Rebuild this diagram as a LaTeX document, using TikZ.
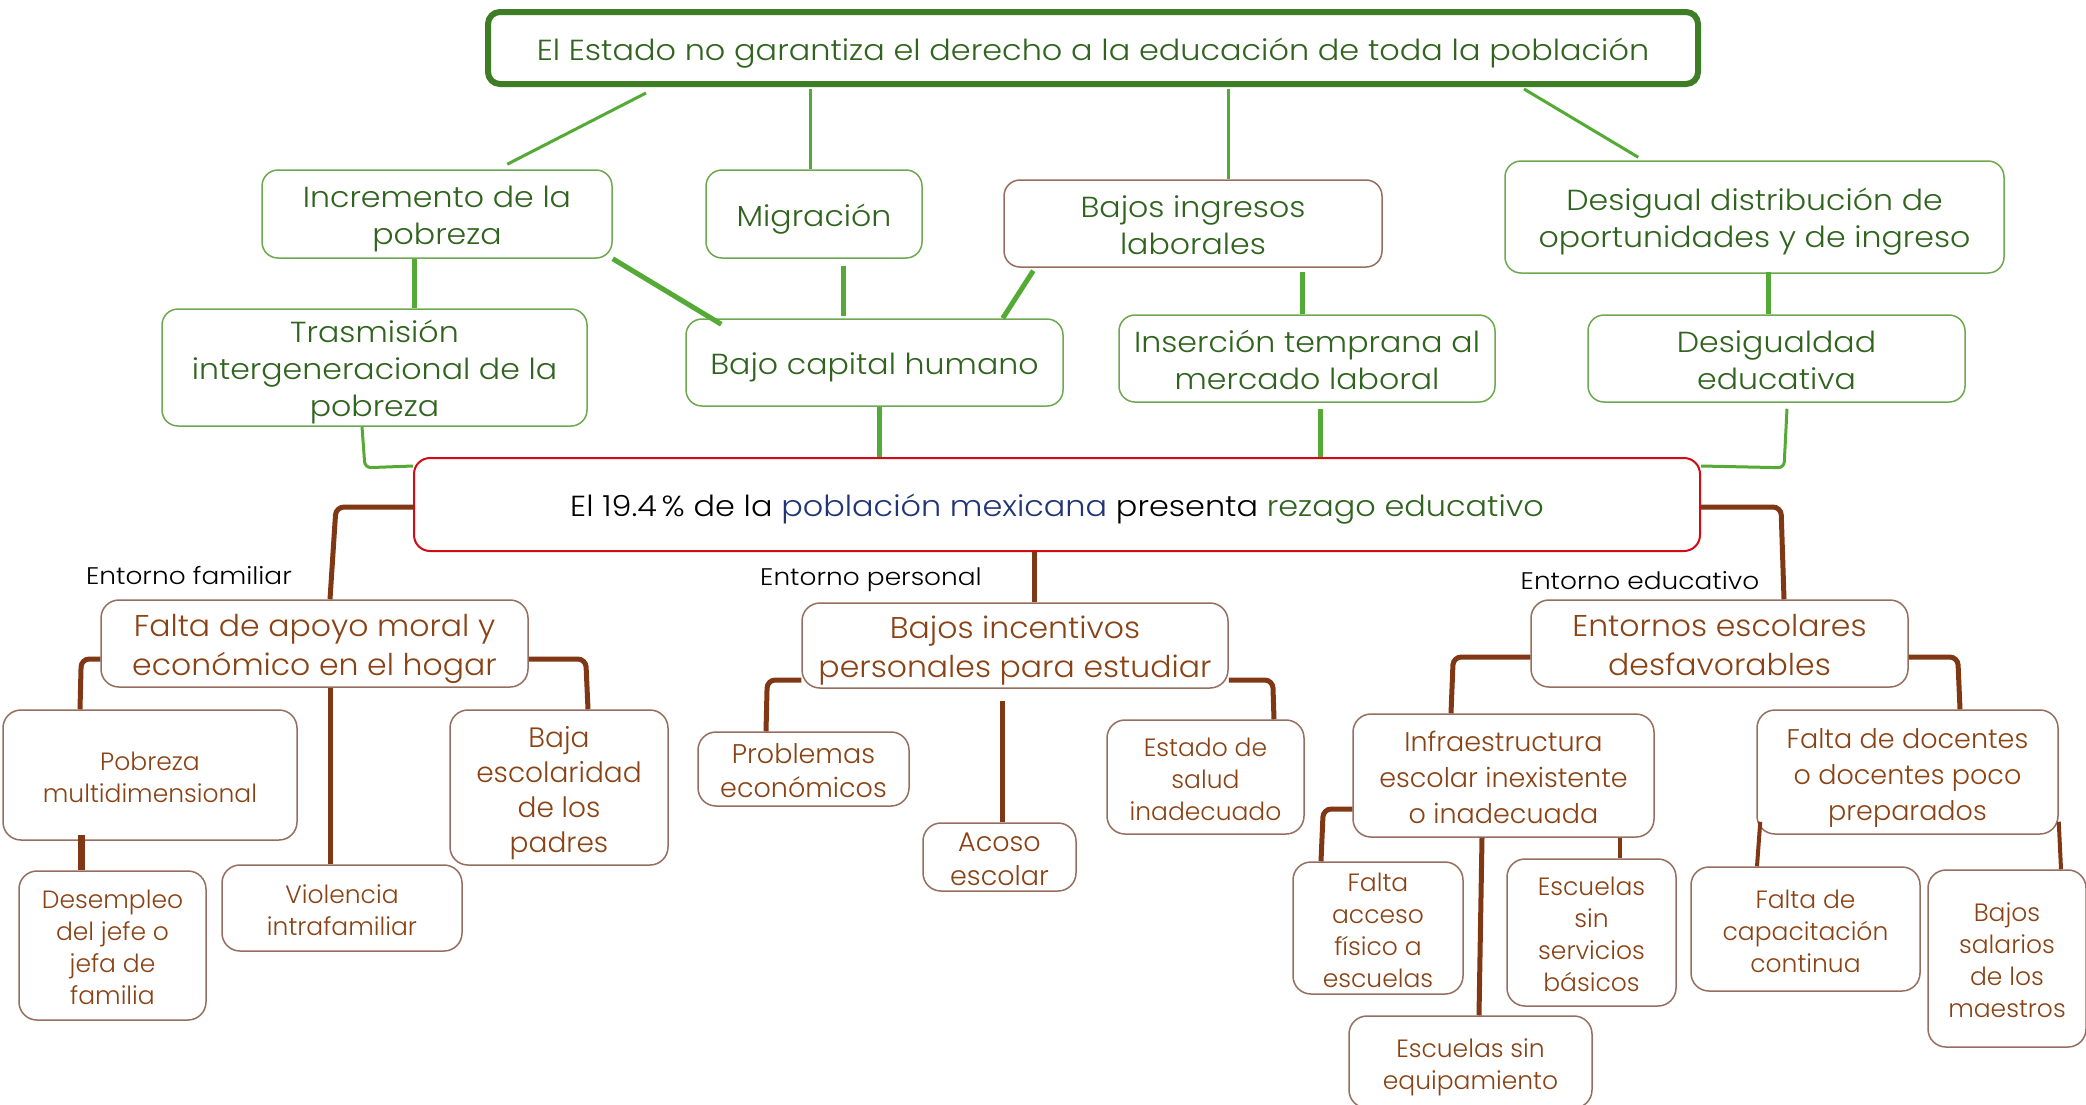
\documentclass[tikz,border=0pt]{standalone}
\usepackage{fontspec}
\setmainfont{Poppins Light}
\newfontfamily\famA[FakeStretch=1.09]{Poppins Light}
\newfontfamily\famB[FakeStretch=1.05]{Poppins Light}
\newfontfamily\famD[FakeStretch=1.10]{Poppins Light}
\usetikzlibrary{calc}
\definecolor{gtext}{RGB}{48,100,30}
\definecolor{gborder}{RGB}{110,168,80}
\definecolor{gline}{RGB}{84,170,52}
\definecolor{gtop}{RGB}{62,125,38}
\definecolor{btext}{RGB}{138,66,20}
\definecolor{bborder}{RGB}{150,110,95}
\definecolor{bline}{RGB}{128,55,20}
\definecolor{redb}{RGB}{210,10,20}
\definecolor{navy}{RGB}{32,52,120}
\newcommand{\fntA}{\famA\fontsize{29}{37}\selectfont}
\newcommand{\fntT}{\famD\fontsize{29}{37}\selectfont}
\newcommand{\fntB}{\famB\fontsize{30}{38.5}\selectfont}
\newcommand{\fntC}{\fontsize{25}{32}\selectfont}
\newcommand{\fntD}{\famD\fontsize{24}{30}\selectfont}
\newcommand{\tbx}[1]{\raisebox{-5pt}[\height][\depth]{\begin{tabular}{@{}c@{}}#1\end{tabular}}}
\tikzset{
  gbox/.style={draw=gborder, line width=1.5, rounded corners=16, text=gtext, inner sep=0, font=\fntA},
  topbox/.style={draw=gtop, line width=6, rounded corners=12, text=gtext, inner sep=0, font=\fntT},
  centbox/.style={draw=redb, line width=2, rounded corners=16, inner sep=0, font=\fntT},
  bbox/.style={draw=bborder, line width=1.5, rounded corners=18, text=btext, inner sep=0, font=\fntB},
  sbox/.style={draw=bborder, line width=1.5, rounded corners=18, text=btext, inner sep=0, font=\fntC},
  lbl/.style={text=black, inner sep=0, font=\fntD},
  gthin/.style={draw=gline, line width=3},
  gthick/.style={draw=gline, line width=5},
  bthick/.style={draw=bline, line width=5, rounded corners=8},
}
\begin{document}
\begin{tikzpicture}[x=1pt,y=-1pt]
\useasboundingbox[fill=white] (0,0) rectangle (2086,1104);
% top
\node[topbox, minimum width=1210, minimum height=72] (top) at (1093,48) {\tbx{El Estado no garantiza el derecho a la educación de toda la población}};
% level 2
\node[gbox, minimum width=350, minimum height=88] (inc) at (437,214) {\tbx{Incremento de la\\pobreza}};
\node[gbox, minimum width=216, minimum height=88] (mig) at (814,214) {\tbx{Migración}};
\node[gbox, draw=bborder, minimum width=378, minimum height=87] (bing) at (1193,223.5) {\tbx{Bajos ingresos\\laborales}};
\node[gbox, minimum width=499, minimum height=112] (desd) at (1754.5,217) {\tbx{Desigual distribución de\\oportunidades y de ingreso}};
% level 3
\node[gbox, minimum width=425, minimum height=117] (tras) at (374.5,367.5) {\tbx{Trasmisión\\intergeneracional de la\\pobreza}};
\node[gbox, minimum width=377, minimum height=87] (bcap) at (874.5,362.5) {\tbx{Bajo capital humano}};
\node[gbox, minimum width=376, minimum height=87] (ins) at (1307,358.5) {\tbx{Inserción temprana al\\mercado laboral}};
\node[gbox, minimum width=377, minimum height=87] (dedu) at (1776.5,358.5) {\tbx{Desigualdad\\educativa}};
% central
\node[centbox, minimum width=1286, minimum height=93] (cent) at (1057,504.5) {\tbx{El 19.4\,\% de la \textcolor{navy}{población mexicana} presenta \textcolor{gtext}{rezago educativo}}};
% labels
\node[lbl] (lf) at (189,576) {Entorno familiar};
\node[lbl] (lp) at (871,580) {Entorno personal};
\node[lbl] (le) at (1640,581) {Entorno educativo};
% level 4
\node[bbox, minimum width=427, minimum height=87] (fam) at (314.5,643.5) {\tbx{Falta de apoyo moral y\\económico en el hogar}};
\node[bbox, minimum width=426, minimum height=85] (per) at (1015,645.5) {\tbx{Bajos incentivos\\personales para estudiar}};
\node[bbox, minimum width=377, minimum height=87] (edu) at (1719.5,643.5) {\tbx{Entornos escolares\\desfavorables}};
% familiar children
\node[sbox, minimum width=294, minimum height=130] (pob) at (150,775) {\tbx{Pobreza\\multidimensional}};
\node[sbox, font=\fontsize{28}{35}\selectfont, minimum width=218, minimum height=155] (baja) at (559,787.5) {\tbx{Baja\\escolaridad\\de los\\padres}};
\node[sbox, minimum width=240, minimum height=86] (vio) at (342,908) {\tbx{Violencia\\intrafamiliar}};
\node[sbox, minimum width=187, minimum height=149] (desem) at (112.5,945.5) {\tbx{Desempleo\\del jefe o\\jefa de\\familia}};
% personal children
\node[sbox, font=\fontsize{27}{34}\selectfont, minimum width=211, minimum height=74] (prob) at (803.5,769) {\tbx{Problemas\\económicos}};
\node[sbox, font=\fontsize{27}{34}\selectfont, minimum width=153, minimum height=64] (acoso) at (999.5,857) {\tbx{Acoso\\escolar}};
\node[sbox, minimum width=197, minimum height=114] (salud) at (1205.5,777) {\tbx{Estado de\\salud\\inadecuado}};
% educativo children
\node[sbox, font=\fontsize{27}{36}\selectfont, minimum width=301, minimum height=123] (infra) at (1503.5,775.5) {\tbx{Infraestructura\\escolar inexistente\\o inadecuada}};
\node[sbox, font=\fontsize{27}{36}\selectfont, minimum width=301, minimum height=124] (doc) at (1907.5,772) {\tbx{Falta de docentes\\o docentes poco\\preparados}};
\node[sbox, minimum width=170, minimum height=132] (acceso) at (1378,928) {\tbx{Falta\\acceso\\físico a\\escuelas}};
\node[sbox, minimum width=169, minimum height=147] (serv) at (1591.5,932.5) {\tbx{Escuelas\\sin\\servicios\\básicos}};
\node[sbox, minimum width=243, minimum height=92] (equip) at (1470.5,1062) {\tbx{Escuelas sin\\equipamiento}};
\node[sbox, minimum width=229, minimum height=124] (cap) at (1805.5,929) {\tbx{Falta de\\capacitación\\continua}};
\node[sbox, minimum width=158, minimum height=177] (sal) at (2007,958.5) {\tbx{Bajos\\salarios\\de los\\maestros}};
% green connectors top -> level 2
\draw[gthin] ($(top.south west)+(161,6)$) -- ($(inc.north west)+(246,-5)$);
\draw[gthin] ($(mig.north)+(-4,0)$) -- ($(top.south)+(-283,2)$);
\draw[gthin] ($(bing.north)+(35,0)$) -- ($(top.south)+(135,2)$);
\draw[gthin] ($(top.south east)+(-177,2)$) -- ($(desd.north west)+(134,-3)$);
% level 2 -> level 3
\draw[gthick] ($(inc.south)+(-23,0)$) -- ($(tras.north)+(39.5,0)$);
\draw[gthick] (inc.south east) -- ($(bcap.north west)+(36,6)$);
\draw[gthick] ($(mig.south)+(29,7)$) -- ($(bcap.north)+(-31.5,-2)$);
\draw[gthick] ($(bing.south west)+(30,3)$) -- ($(bcap.north east)+(-61,0)$);
\draw[gthick] ($(bing.south)+(109,4)$) -- ($(ins.north)+(-5,0)$);
\draw[gthick] ($(desd.south)+(13.5,-2)$) -- ($(dedu.north)+(-8.5,0)$);
% level 3 -> central
\draw[gthin, rounded corners=6] ($(tras.south)+(-12.5,0)$) -- ($(tras.south)+(-9.5,41)$) -- ($(cent.north west)+(0,9)$);
\draw[gthick] ($(bcap.south)+(4.5,0)$) -- ($(cent.north)+(-178,0)$);
\draw[gthick] ($(ins.south)+(13,6)$) -- ($(cent.north)+(263,0)$);
\draw[gthin, rounded corners=6] ($(dedu.south)+(10.5,6)$) -- ($(dedu.south)+(7.5,65)$) -- ($(cent.north east)+(0,9)$);
% central -> level 4
\draw[bthick] ($(cent.west)+(0,2.5)$) -- ($(cent.west)+(-77,2.5)$) -- ($(fam.north)+(15.5,0)$);
\draw[bthick] ($(cent.south)+(-23,0)$) -- ($(per.north)+(19,0)$);
\draw[bthick] ($(cent.east)+(0,2.5)$) -- ($(cent.east)+(80,2.5)$) -- ($(edu.north)+(64.5,0)$);
% familiar
\draw[bthick] ($(fam.west)+(0,15.5)$) -- ($(fam.west)+(-19,15.5)$) -- ($(pob.north)+(-70,0)$);
\draw[bthick] ($(fam.south)+(15.5,0)$) -- ($(vio.north)+(-12,0)$);
\draw[bthick] ($(fam.east)+(0,15.5)$) -- ($(fam.east)+(57,15.5)$) -- ($(baja.north)+(29,0)$);
\draw[bthick, line width=7] ($(pob.south)+(-69,-6)$) -- ($(desem.north)+(-31.5,0)$);
% personal
\draw[bthick] ($(per.west)+(0,34.5)$) -- ($(per.west)+(-34,34.5)$) -- ($(prob.north)+(-37.5,0)$);
\draw[bthick] ($(per.south)+(-13,12)$) -- ($(acoso.north)+(2.5,0)$);
\draw[bthick] ($(per.east)+(0,34.5)$) -- ($(per.east)+(44,34.5)$) -- ($(salud.north)+(68.5,0)$);
% educativo
\draw[bthick] ($(edu.west)+(0,13.5)$) -- ($(edu.west)+(-77,13.5)$) -- ($(infra.north)+(-52.5,0)$);
\draw[bthick] ($(edu.east)+(0,13.5)$) -- ($(edu.east)+(49,13.5)$) -- ($(doc.north)+(52.5,0)$);
\draw[bthick] ($(infra.west)+(0,33.5)$) -- ($(infra.west)+(-29,33.5)$) -- ($(acceso.north)+(-57,0)$);
\draw[bthick] ($(infra.south)+(-21.5,0)$) -- ($(equip.north)+(8.5,0)$);
\draw[bthick, line width=4] ($(infra.south)+(116.5,0)$) -- ($(serv.north)+(28.5,0)$);
\draw[bthick, line width=4] ($(doc.south west)+(4,-13)$) -- ($(cap.north)+(-48.5,0)$);
\draw[bthick, line width=4] ($(doc.south east)+(0,-13)$) -- ($(sal.north)+(54,0)$);
\end{tikzpicture}
\end{document}
